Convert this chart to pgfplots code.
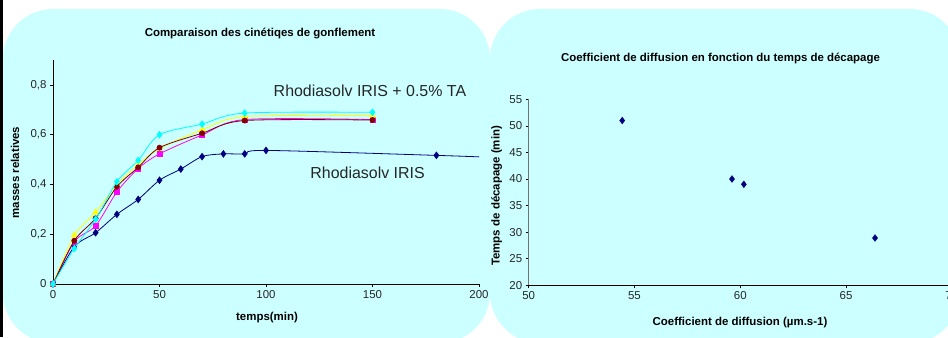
\documentclass[border=0pt]{standalone}
\usepackage{pgfplots}
\pgfplotsset{compat=1.18}
\usepackage{fontspec}
\setmainfont{Liberation Sans}
\definecolor{bgc}{HTML}{CCFFFF}
\definecolor{navy}{HTML}{000080}
\definecolor{maroonc}{HTML}{800000}
\definecolor{magc}{HTML}{FF00FF}
\definecolor{yelc}{HTML}{FFFF00}
\definecolor{cyac}{HTML}{00FFFF}
\begin{document}
\begin{tikzpicture}[x=1bp,y=1bp]
\path[use as bounding box] (0,0) rectangle (948,337);
\clip (0,0) rectangle (948,337);
\fill[bgc, rounded corners=50bp] (3,-6) rectangle (490,328);
\fill[bgc, rounded corners=50bp] (490,-6) rectangle (960,328);
\fill[black] (0,0) rectangle (3,337);

% Left chart
\begin{axis}[
  at={(53bp,53bp)}, anchor=south west, scale only axis,
  width=426bp, height=223.9bp,
  xmin=0, xmax=200, ymin=0, ymax=0.9,
  axis lines*=left,
  axis line style={black, line width=0.8bp},
  xtick={0,50,100,150,200}, ytick={0,0.2,0.4,0.6,0.8},
  tick align=outside, major tick length=3bp,
  tick style={black, line width=0.6bp},
  tick label style={font=\fontsize{11.5}{13}\selectfont, text=black!85},
  /pgf/number format/assume math mode=true,
  /pgf/number format/use comma,
  yticklabel style={/pgf/number format/fixed, /pgf/number format/precision=1},
  every axis plot/.append style={line width=0.8bp, smooth, tension=0.5},
  clip mode=individual,
]
\addplot[color=navy, mark=diamond*, mark size=3.2bp, mark indices={1,2,3,4,5,6,7,8,9,10,11,12}] coordinates {
  (0,0) (10,0.15) (20,0.206) (30,0.28) (40,0.34) (50,0.417) (60,0.462) (70,0.512)
  (80,0.523) (90,0.523) (100,0.537) (180,0.517) (200,0.511)
};
\addplot[color=magc, mark=square*, mark size=2.4bp] coordinates {
  (0,0) (10,0.17) (20,0.234) (30,0.37) (40,0.464) (50,0.523) (70,0.599) (90,0.661) (150,0.661)
};
\addplot[color=yelc, mark=triangle*, mark size=3.2bp] coordinates {
  (0,0) (10,0.196) (20,0.288) (30,0.40) (40,0.48) (50,0.544) (70,0.62) (90,0.673) (150,0.677)
};
\addplot[color=maroonc, mark=*, mark size=2.5bp] coordinates {
  (0,0) (10,0.174) (20,0.264) (30,0.391) (40,0.469) (50,0.548) (70,0.606) (90,0.657) (150,0.659)
};
\addplot[color=cyac, mark=diamond*, mark size=3.2bp] coordinates {
  (0,0) (10,0.143) (20,0.26) (30,0.411) (40,0.497) (50,0.60) (70,0.643) (90,0.687) (150,0.69)
};
\node[font=\fontsize{16}{18}\selectfont, text=black!85] at (axis cs:148.8,0.776) {Rhodiasolv IRIS + 0.5\% TA};
\node[font=\fontsize{16}{18}\selectfont, text=black!85] at (axis cs:147.7,0.446) {Rhodiasolv IRIS};
\end{axis}
\node[font=\bfseries\fontsize{11.5}{13}\selectfont] at (260,303) {Comparaison des cinétiqes de gonflement};
\node[font=\bfseries\fontsize{11.5}{13}\selectfont] at (267,19) {temps(min)};
\node[font=\bfseries\fontsize{11.5}{13}\selectfont, rotate=90] at (15,164.5) {masses relatives};

% Right chart
\begin{axis}[
  at={(528.7bp,51.7bp)}, anchor=south west, scale only axis,
  width=423.1bp, height=186bp,
  xmin=50, xmax=70, ymin=20, ymax=55,
  axis lines*=left,
  x axis line style={black, line width=0.8bp},
  y axis line style={black!55, line width=1bp},
  xtick={50,55,60,65,70}, ytick={20,25,30,35,40,45,50,55},
  tick align=outside, major tick length=3bp,
  tick style={black, line width=0.6bp},
  tick label style={font=\fontsize{11.5}{13}\selectfont, text=black!85},
  /pgf/number format/assume math mode=true,
  clip=false,
]
\addplot[only marks, color=navy, mark=diamond*, mark size=3.4bp] coordinates {
  (54.42,51) (59.61,40) (60.17,39) (66.37,28.9)
};
\end{axis}
\node[font=\bfseries\fontsize{11.5}{13}\selectfont] at (720.5,278.3) {Coefficient de diffusion en fonction du temps de décapage};
\node[font=\bfseries\fontsize{11.5}{13}\selectfont] at (740,14) {Coefficient de diffusion (µm.s-1)};
\node[font=\bfseries\fontsize{11.5}{13}\selectfont, rotate=90] at (496.7,141.2) {Temps de décapage (min)};
\end{tikzpicture}
\end{document}
